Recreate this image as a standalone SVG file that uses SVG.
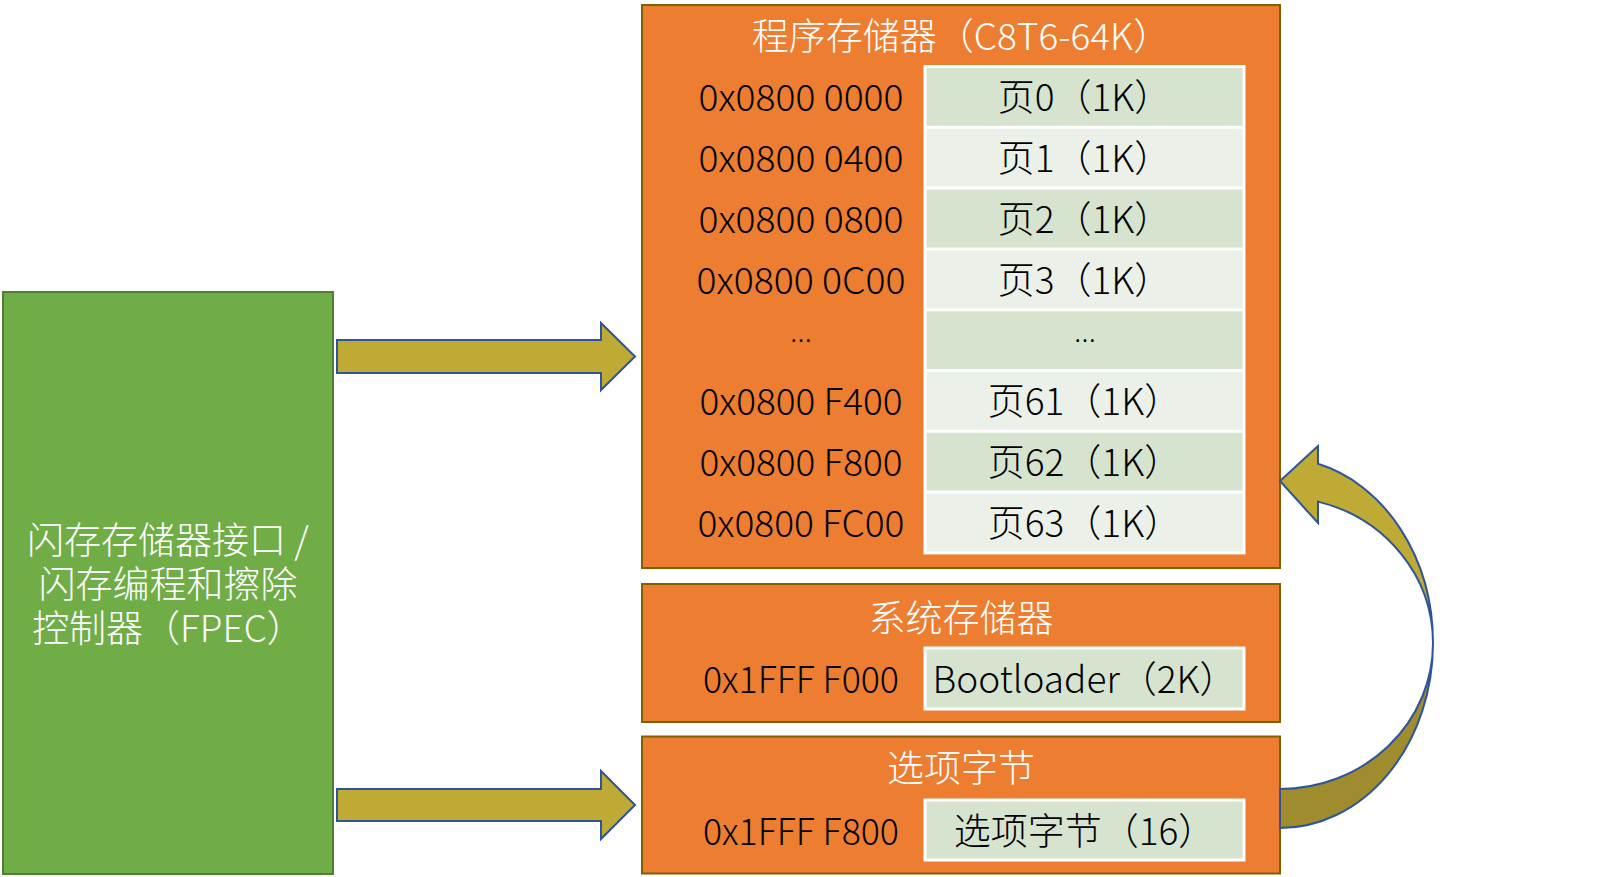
<svg xmlns="http://www.w3.org/2000/svg" width="1606" height="877" viewBox="0 0 1606 877">
<style>
text{font-family:"Noto Sans CJK SC","Noto Sans",sans-serif;font-size:37px;font-weight:300}
.w{fill:#FFFFFF}
.k{fill:#000000}
.m{text-anchor:middle}
.box{fill:#ED7D31;stroke:#806000;stroke-width:2}
.dk{fill:#D6E3CF}
.lt{fill:#EBF1E9}
.arr{fill:#C0AA36;stroke:#2F5597;stroke-width:2;stroke-linejoin:miter}
.arr2{fill:#9E8C2F;stroke:#2F5597;stroke-width:2}
.sep{stroke:#FFFFFF;stroke-width:3;fill:none}
.ell{font-family:"Noto Sans",sans-serif;font-size:30px}
</style>
<rect width="1606" height="877" fill="#FFFFFF"/>

<g id="fpec">
<rect x="3" y="292" width="330" height="582" fill="#70AD47" stroke="#507E32" stroke-width="2"/>
<text class="w m" x="168" y="554">闪存存储器接口 /</text>
<text class="w m" x="168" y="598">闪存编程和擦除</text>
<text class="w m" x="168" y="642">控制器（FPEC）</text>
</g>

<g id="program-memory">
<rect class="box" x="642" y="5" width="638" height="563"/>
<text class="w m" x="961" y="50">程序存储器（C8T6-64K）</text>
<rect class="dk" x="925" y="66.5" width="319" height="60.8"/>
<rect class="lt" x="925" y="127.3" width="319" height="60.8"/>
<rect class="dk" x="925" y="188.1" width="319" height="60.8"/>
<rect class="lt" x="925" y="248.9" width="319" height="60.8"/>
<rect class="dk" x="925" y="309.7" width="319" height="60.8"/>
<rect class="lt" x="925" y="370.5" width="319" height="60.8"/>
<rect class="dk" x="925" y="431.3" width="319" height="60.8"/>
<rect class="lt" x="925" y="492.1" width="319" height="60.8"/>
<path class="sep" d="M925 127.3H1244M925 188.1H1244M925 248.9H1244M925 309.7H1244M925 370.5H1244M925 431.3H1244M925 492.1H1244"/>
<rect class="sep" x="925" y="66.5" width="319" height="486.4"/>
<text class="k m" x="801" y="111" textLength="205" lengthAdjust="spacingAndGlyphs">0x0800 0000</text>
<text class="k m" x="801" y="172" textLength="205" lengthAdjust="spacingAndGlyphs">0x0800 0400</text>
<text class="k m" x="801" y="233" textLength="205" lengthAdjust="spacingAndGlyphs">0x0800 0800</text>
<text class="k m" x="801" y="294" textLength="209" lengthAdjust="spacingAndGlyphs">0x0800 0C00</text>
<text class="k m ell" x="801" y="342">…</text>
<text class="k m" x="801" y="415" textLength="203" lengthAdjust="spacingAndGlyphs">0x0800 F400</text>
<text class="k m" x="801" y="476" textLength="203" lengthAdjust="spacingAndGlyphs">0x0800 F800</text>
<text class="k m" x="801" y="537" textLength="207" lengthAdjust="spacingAndGlyphs">0x0800 FC00</text>
<text class="k m" x="1084.5" y="111">页0（1K）</text>
<text class="k m" x="1084.5" y="172">页1（1K）</text>
<text class="k m" x="1084.5" y="233">页2（1K）</text>
<text class="k m" x="1084.5" y="294">页3（1K）</text>
<text class="k m ell" x="1085" y="342">…</text>
<text class="k m" x="1084.5" y="415">页61（1K）</text>
<text class="k m" x="1084.5" y="476">页62（1K）</text>
<text class="k m" x="1084.5" y="537">页63（1K）</text>
</g>

<g id="system-memory">
<rect class="box" x="642" y="584" width="638" height="138"/>
<text class="w m" x="961" y="632">系统存储器</text>
<rect class="dk" x="925" y="648" width="319" height="61"/>
<rect class="sep" x="925" y="648" width="319" height="61"/>
<text class="k m" x="801" y="693" textLength="196" lengthAdjust="spacingAndGlyphs">0x1FFF F000</text>
<text class="k m" x="1084.5" y="693">Bootloader（2K）</text>
</g>

<g id="option-bytes">
<rect class="box" x="642" y="736.5" width="638" height="137"/>
<text class="w m" x="961" y="782">选项字节</text>
<rect class="dk" x="925" y="800" width="319" height="60"/>
<rect class="sep" x="925" y="800" width="319" height="60"/>
<text class="k m" x="801" y="844.5" textLength="196" lengthAdjust="spacingAndGlyphs">0x1FFF F800</text>
<text class="k m" x="1084.5" y="844.5">选项字节（16）</text>
</g>

<g id="connectors">
<path class="arr" d="M337 340H601V323L635 356.5L601 390V373H337Z"/>
<path class="arr" d="M337 789H601V771L635 805L601 839V821H337Z"/>
<path class="arr2" d="M1433 643A153 185 0 0 1 1280 828V789A153 146 0 0 0 1433 643Z"/>
<path class="arr" d="M1280 481L1318 446V463.8A153 185 0 0 1 1433 643A153 146 0 0 0 1318 501.6V523Z"/>
</g>
</svg>
